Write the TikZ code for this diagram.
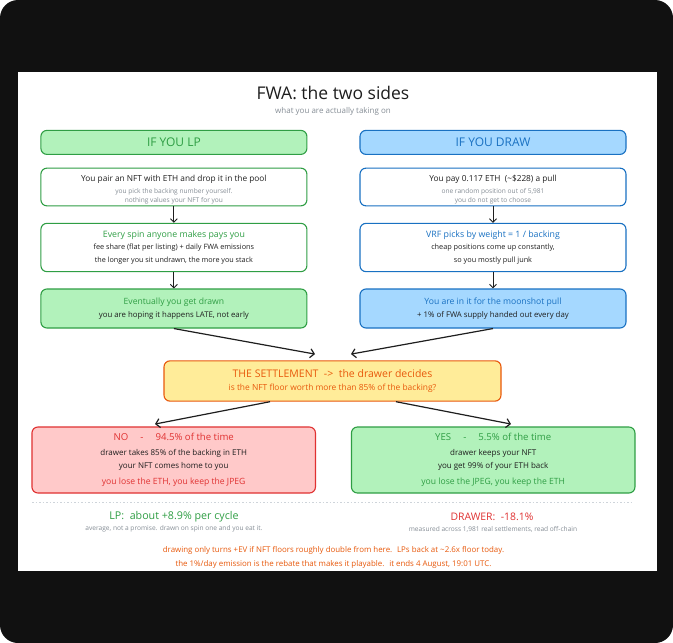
\documentclass[tikz,border=0pt]{standalone}
\usepackage{fontspec}
\setmainfont{Open Sans}
\usetikzlibrary{arrows.meta,calc}
\definecolor{gstroke}{HTML}{2F9E44}
\definecolor{gfill}{HTML}{B2F2BB}
\definecolor{bstroke}{HTML}{1971C2}
\definecolor{bfill}{HTML}{A5D8FF}
\definecolor{ostroke}{HTML}{E8590C}
\definecolor{yfill}{HTML}{FFEC99}
\definecolor{rstroke}{HTML}{E03131}
\definecolor{rfill}{HTML}{FFC9C9}
\definecolor{subgray}{HTML}{868E96}
\definecolor{ink}{HTML}{1E1E1E}
\definecolor{framec}{HTML}{111111}
\definecolor{divc}{HTML}{CED4DA}
\newcommand{\fs}[2]{\fontsize{#1}{#2}\selectfont}
\tikzset{
  base/.style={rectangle, rounded corners=6pt, line width=1.1pt, align=center, inner sep=0pt, text=ink},
  hdr/.style={base, minimum width=266pt, minimum height=24pt, font=\fs{12}{14}},
  col/.style={base, minimum width=266pt},
  big/.style={base, minimum width=283.5pt, minimum height=66pt, font=\fs{7.5}{13.5}},
  arr/.style={draw=ink, line width=0.9pt, -{Straight Barb[length=3.5pt,width=7pt]}},
  arrbig/.style={draw=ink, line width=1.2pt, -{Straight Barb[length=4pt,width=9pt]}},
  txt/.style={inner sep=0pt, align=center}
}
\begin{document}
\begin{tikzpicture}[x=1pt,y=-1pt]
\useasboundingbox (0,0) rectangle (673,643);
\fill[white] (0,0) rectangle (673,643);
\fill[framec, rounded corners=18pt] (0,0) rectangle (673,643);
\fill[white] (17.5,72) rectangle (657,570.5);

% title
\node[txt, text=ink] (title) at (333,93) {\fs{17.5}{20}FWA: the two sides};
\node[txt, text=subgray] (subt) at (333,111) {\fs{8}{9}what you are actually taking on};

% headers
\node[hdr, draw=gstroke, fill=gfill, text=gstroke] (lph) at (173.9,142.4) {IF YOU LP};
\node[hdr, draw=bstroke, fill=bfill, text=bstroke] (drh) at (493,142.4) {IF YOU DRAW};

% LP column
\node[col, draw=gstroke, fill=white, minimum height=37.7pt, font=\fs{7}{9}] (lp1) at (173.9,187)
  {\rule{0pt}{12.5pt}\fs{8.3}{9}You pair an NFT with ETH and drop it in the pool\\[3pt]
   \color{subgray}\fs{6.6}{9}you pick the backing number yourself.\\
   \color{subgray}\fs{6.6}{9}nothing values your NFT for you};
\node[col, draw=gstroke, fill=white, minimum height=48.3pt, font=\fs{7}{12.5}] (lp2) at (173.9,247.5)
  {\color{gstroke}\fs{8.8}{9}Every spin anyone makes pays you\\
   \fs{7.3}{9}fee share (flat per listing) + daily FWA emissions\\
   \fs{7.2}{9}the longer you sit undrawn, the more you stack};
\node[col, draw=gstroke, fill=gfill, minimum height=39pt, font=\fs{7}{13}] (lp3) at (173.9,308.5)
  {\color{gstroke}\fs{8.6}{9}Eventually you get drawn\\
   \fs{7.8}{9}you are hoping it happens LATE, not early};

% DRAW column
\node[col, draw=bstroke, fill=white, minimum height=37.7pt, font=\fs{7}{9}] (dr1) at (493,187)
  {\rule{0pt}{12.5pt}\fs{8.3}{9}You pay 0.117 ETH \ (\textasciitilde\$228) a pull\\[3pt]
   \color{subgray}\fs{6.6}{9}one random position out of 5,981\\
   \color{subgray}\fs{6.6}{9}you do not get to choose};
\node[col, draw=bstroke, fill=white, minimum height=48.3pt, font=\fs{7}{12.5}] (dr2) at (493,247.5)
  {\color{bstroke}\fs{8.8}{9}VRF picks by weight = 1 / backing\\
   \fs{7.3}{9}cheap positions come up constantly,\\
   \fs{7.3}{9}so you mostly pull junk};
\node[col, draw=bstroke, fill=bfill, minimum height=39pt, font=\fs{7}{13}] (dr3) at (493,308.5)
  {\color{bstroke}\fs{8.6}{9}You are in it for the moonshot pull\\
   \fs{7.8}{9}+ 1\% of FWA supply handed out every day};

% settlement
\node[base, draw=ostroke, fill=yfill, text=ostroke, minimum width=337pt, minimum height=40.3pt, font=\fs{7.5}{13}] (set) at (332.5,381)
  {\fs{10.5}{11}THE SETTLEMENT \ \mbox{->} \ the drawer decides\\
   \fs{8.4}{9}is the NFT floor worth more than 85\% of the backing?};

% outcomes
\node[big, draw=rstroke, fill=rfill] (no) at (173.7,460)
  {\color{rstroke}\fs{9.6}{10}NO \quad - \quad 94.5\% of the time\\[1pt]
   \fs{8}{9}drawer takes 85\% of the backing in ETH\\
   \fs{8}{9}your NFT comes home to you\\[2pt]
   \color{rstroke}\fs{8.6}{9}you lose the ETH, you keep the JPEG};
\node[big, draw=gstroke, fill=gfill] (yes) at (493.2,460)
  {\color{gstroke}\fs{9.6}{10}YES \quad - \quad 5.5\% of the time\\[1pt]
   \fs{8}{9}drawer keeps your NFT\\
   \fs{8}{9}you get 99\% of your ETH back\\[2pt]
   \color{gstroke}\fs{8.6}{9}you lose the JPEG, you keep the ETH};

% arrows
\draw[arr] (lp1) -- (lp2);
\draw[arr] (lp2) -- (lp3);
\draw[arr] (dr1) -- (dr2);
\draw[arr] (dr2) -- (dr3);
\draw[arrbig] (lp3.south) -- ($(set.north)+(-17.5,-6.2)$);
\draw[arrbig] (dr3.south) -- ($(set.north)+(18.5,-6.2)$);
\draw[arrbig] ($(set.south)+(-62.5,0)$) -- ($(no.north)+(-18.7,-2.4)$);
\draw[arrbig] ($(set.south)+(63.5,0)$) -- ($(yes.north)+(17.8,-2.4)$);

% divider
\draw[divc, line width=0.6pt, dash pattern=on 1.5pt off 2pt] (32,502.5) -- (633,502.5);

% summaries
\node[txt, text=gstroke] (lpsum) at (174,517) {\fs{10.7}{12}LP: \ about +8.9\% per cycle};
\node[txt, text=subgray] (lpnote) at (174,529) {\fs{6.6}{8}average, not a promise. drawn on spin one and you eat it.};
\node[txt, text=rstroke] (drsum) at (492,517) {\fs{10.4}{12}DRAWER: \ -18.1\%};
\node[txt, text=subgray] (drnote) at (493,529) {\fs{6.6}{8}measured across 1,981 real settlements, read off-chain};

\node[txt, text=ostroke] (foot1) at (333.5,550) {\fs{7.9}{9}drawing only turns +EV if NFT floors roughly double from here. \ LPs back at \textasciitilde 2.6x floor today.};
\node[txt, text=ostroke] (foot2) at (333.5,564) {\fs{7.9}{9}the 1\%/day emission is the rebate that makes it playable. \ it ends 4 August, 19:01 UTC.};
\end{tikzpicture}
\end{document}
